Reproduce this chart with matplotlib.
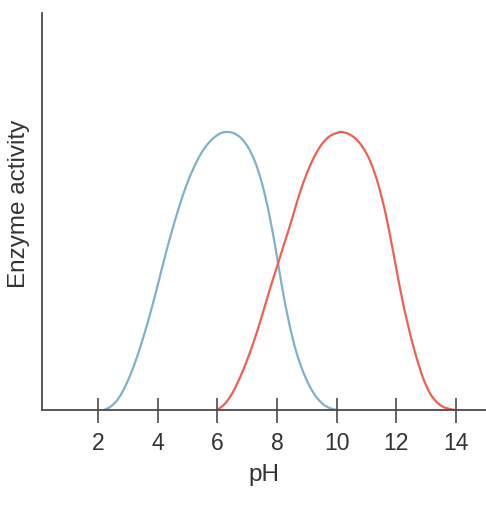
import matplotlib
matplotlib.use("Agg")
import matplotlib.pyplot as plt
from matplotlib.path import Path
from matplotlib.patches import PathPatch

# values (pH, relative activity)
blue_ph = [2.2, 2.45, 2.7, 2.95, 3.2, 3.45, 3.7, 3.95, 4.2, 4.45, 4.7, 4.95,
           5.2, 5.45, 5.7, 5.95, 6.15, 6.35, 6.58, 6.81, 7.04, 7.27, 7.50, 7.73,
           7.96, 8.18, 8.41, 8.64, 8.87, 9.10, 9.33, 9.56, 9.79, 10.02]
blue_act = [0.0, 0.015, 0.045, 0.095, 0.160, 0.240, 0.330, 0.430, 0.535, 0.635, 0.725, 0.805,
            0.870, 0.922, 0.960, 0.985, 0.997, 1.0, 0.994, 0.976, 0.943, 0.891, 0.814, 0.709,
            0.577, 0.437, 0.312, 0.212, 0.140, 0.085, 0.045, 0.020, 0.006, 0.0]

red_ph = [6.0, 6.25, 6.5, 6.75, 7.0, 7.25, 7.5, 7.75, 8.0, 8.25, 8.5, 8.75,
          9.0, 9.25, 9.5, 9.75, 10.0, 10.17, 10.4, 10.65, 10.9, 11.15, 11.4,
          11.65, 11.9, 12.15, 12.4, 12.65, 12.9, 13.15, 13.4, 13.65, 13.98]
red_act = [0.0, 0.022, 0.060, 0.115, 0.180, 0.255, 0.340, 0.430, 0.515, 0.600, 0.685, 0.775,
           0.850, 0.910, 0.955, 0.983, 0.996, 1.0, 0.993, 0.975, 0.942, 0.890, 0.812,
           0.705, 0.570, 0.428, 0.305, 0.202, 0.117, 0.058, 0.025, 0.008, 0.0]

ticks = [2, 4, 6, 8, 10, 12, 14]


def smooth_path(xs, ys):
    # cubic bezier segments through the read points (catmull-rom handles)
    pts = list(zip(xs, ys))
    verts = [pts[0]]
    codes = [Path.MOVETO]
    n = len(pts)
    for i in range(n - 1):
        p0 = pts[max(i - 1, 0)]
        p1 = pts[i]
        p2 = pts[i + 1]
        p3 = pts[min(i + 2, n - 1)]
        c1 = (p1[0] + (p2[0] - p0[0]) / 6, p1[1] + (p2[1] - p0[1]) / 6)
        c2 = (p2[0] - (p3[0] - p1[0]) / 6, p2[1] - (p3[1] - p1[1]) / 6)
        verts += [c1, c2, p2]
        codes += [Path.CURVE4] * 3
    return Path(verts, codes)


plt.rcParams['font.family'] = ['Liberation Sans', 'DejaVu Sans']

fig = plt.figure(figsize=(4.86, 5.08), dpi=100)
ax = fig.add_axes([0.0864, 0.193, 0.9136, 0.7815])

ax.add_patch(PathPatch(smooth_path(blue_ph, blue_act), fill=False,
                       edgecolor='#80b1cc', lw=1.6, capstyle='round'))
ax.add_patch(PathPatch(smooth_path(red_ph, red_act), fill=False,
                       edgecolor='#f25f50', lw=1.6, capstyle='round'))

ax.set_xlim(0.11, 15.02)
ax.set_ylim(0, 1.428)

for s in ['top', 'right']:
    ax.spines[s].set_visible(False)
for s in ['left', 'bottom']:
    ax.spines[s].set_color('#4a4a4a')
    ax.spines[s].set_linewidth(1.3)

ax.set_xticks(ticks)
ax.set_xticklabels([str(t) for t in ticks])
ax.set_yticks([])
ax.tick_params(axis='x', direction='inout', length=18, width=1.2,
               color='#4a4a4a', labelsize=16.5, labelcolor='#333333', pad=7)

ax.set_xlabel('pH', fontsize=17.5, color='#333333', labelpad=6)
ax.set_ylabel('Enzyme activity', fontsize=17.5, color='#333333')
ax.yaxis.set_label_coords(-0.027, 0.519)

fig.savefig('out.png', dpi=100)
